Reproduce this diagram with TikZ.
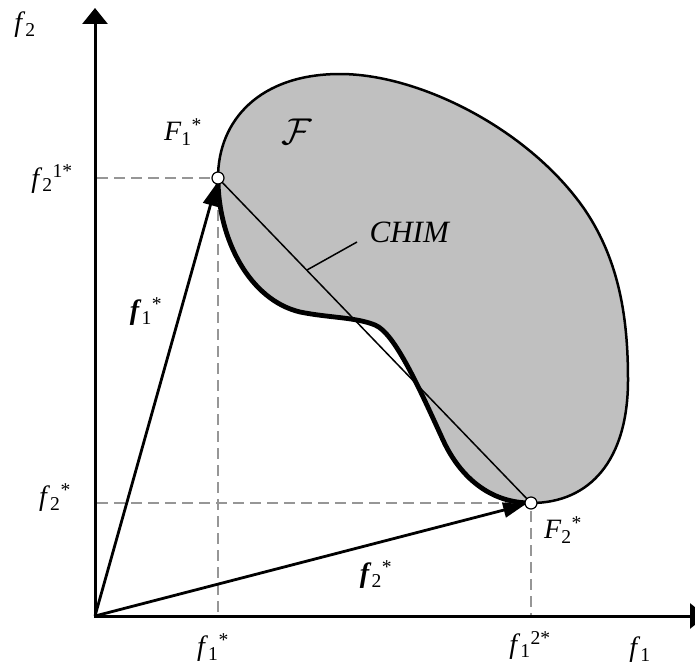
\documentclass[tikz,border=0pt]{standalone}
\usepackage{fontspec}
\setmainfont{Liberation Serif}
\usetikzlibrary{arrows.meta}
\definecolor{setgray}{RGB}{192,192,192}
\definecolor{dashgray}{RGB}{150,150,150}
\tikzset{
  axis/.style={line width=3pt,{Triangle[length=16pt,width=25pt]}-{Triangle[length=16pt,width=25pt]}},
  vec/.style={line width=2.8pt,-{Triangle[length=22pt,width=15pt]},shorten >=6pt},
  guide/.style={dashgray,line width=1.2pt,dash pattern=on 11pt off 6pt},
  pt/.style={circle,draw,fill=white,line width=1.2pt,inner sep=0pt,minimum size=12pt},
  lbl/.style={font=\fontsize{28}{30}\selectfont,inner sep=0pt}
}
\begin{document}
\begin{tikzpicture}[x=1pt,y=-1pt]
  \clip (0,0) rectangle (695,669);
  \coordinate (O) at (95,616);
  \coordinate (ytip) at (95,8);
  \coordinate (xtip) at (706,616);
  \coordinate (F1) at (218,178);
  \coordinate (F2) at (531,503);
  \coordinate (y1) at (97,178);
  \coordinate (x1) at (218,616);
  \coordinate (y2) at (97,503);
  \coordinate (x2) at (531,616);
  \coordinate (lead) at (307,270);
  \coordinate (leadend) at (357,242);
  % guide lines
  \draw[guide] (y1) -- (F1) -- (x1);
  \draw[guide] (y2) -- (F2) -- (x2);
  % feasible set
  \fill[setgray] (F1) .. controls (218,120) and (260,74) .. (340,74)
    .. controls (420,74) and (530,130) .. (585,210)
    .. controls (620,262) and (628,320) .. (628,380)
    .. controls (628,460) and (590,503) .. (F2)
    .. controls (490,503) and (460,477) .. (443,440)
    .. controls (420,390) and (395,333) .. (375,325)
    .. controls (355,317) and (330,318) .. (300,312)
    .. controls (250,300) and (218,240) .. (F1);
  \draw[line width=2.5pt] (F1) .. controls (218,120) and (260,74) .. (340,74)
    .. controls (420,74) and (530,130) .. (585,210)
    .. controls (620,262) and (628,320) .. (628,380)
    .. controls (628,460) and (590,503) .. (F2);
  \draw[line width=4.8pt] (F1) .. controls (218,240) and (250,300) .. (300,312)
    .. controls (330,318) and (355,317) .. (375,325)
    .. controls (395,333) and (420,390) .. (443,440)
    .. controls (460,477) and (490,503) .. (F2);
  \draw[line width=1.5pt] (F1) -- (F2);
  \draw[line width=1.5pt] (lead) -- (leadend);
  % axes and vectors
  \draw[axis] (ytip) -- (O) -- (xtip);
  \draw[vec] (O) -- (F1);
  \draw[vec] (O) -- (F2);
  \node[pt] (p1) at (F1) {};
  \node[pt] (p2) at (F2) {};
  % labels
  \node[lbl] (lf2) at (25,25) {\textit{f}\textsubscript{2}};
  \node[lbl] (lf21) at (52,179) {\textit{f}\textsubscript{2}\textsuperscript{1*}};
  \node[lbl] (lF1) at (183,132) {\textit{F}\textsubscript{1}\textsuperscript{*}};
  \node[lbl,font=\fontsize{24.88}{28}\selectfont] (lset) at (297,132) {\scalebox{1.5}{$\mathcal{F}$}};
  \node[lbl,font=\fontsize{31}{34}\selectfont] (lchim) at (410,232) {\textit{CHIM}};
  \node[lbl] (lv1) at (146,312) {\textbf{\textit{f}}\textsubscript{1}\textsuperscript{*}};
  \node[lbl] (lf2s) at (55,498) {\textit{f}\textsubscript{2}\textsuperscript{*}};
  \node[lbl] (lF2) at (563,530) {\textit{F}\textsubscript{2}\textsuperscript{*}};
  \node[lbl] (lv2) at (376,575) {\textbf{\textit{f}}\textsubscript{2}\textsuperscript{*}};
  \node[lbl] (lf1s) at (213,648) {\textit{f}\textsubscript{1}\textsuperscript{*}};
  \node[lbl] (lf12) at (530,645) {\textit{f}\textsubscript{1}\textsuperscript{2*}};
  \node[lbl] (lf1) at (640,650) {\textit{f}\textsubscript{1}};
\end{tikzpicture}
\end{document}
